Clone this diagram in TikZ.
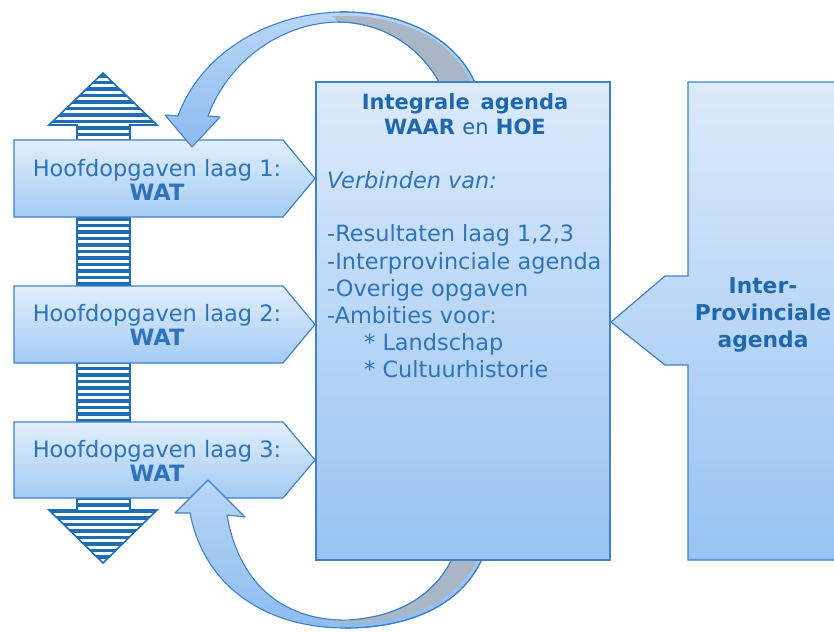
\documentclass[tikz,border=0pt]{standalone}
\usepackage{fontspec}
\setmainfont{DejaVu Sans}
\definecolor{bordc}{HTML}{3F83C6}
\definecolor{txtc}{HTML}{2D74B8}
\definecolor{hdc}{HTML}{1F68AC}
\definecolor{stripec}{HTML}{1F6DB6}
\definecolor{boxtop}{HTML}{DCEAFA}
\definecolor{boxbot}{HTML}{97C3F2}
\definecolor{chevtop}{HTML}{E2EEFB}
\definecolor{chevbot}{HTML}{A3CBF4}
\definecolor{arctop}{HTML}{B9D6F6}
\definecolor{arcbot}{HTML}{8DBCEF}
\definecolor{greyc}{HTML}{A9B6C6}
\begin{document}
\begin{tikzpicture}[x=1pt,y=-1pt,
  chev/.style={draw=bordc, line width=1.2pt, top color=chevtop, bottom color=chevbot},
  bigbox/.style={draw=bordc, line width=1.2pt, top color=boxtop, bottom color=boxbot},
  band/.style={draw=bordc, line width=1.1pt, line join=round, top color=arctop, bottom color=arcbot},
  lbl/.style={text=txtc, font=\fontsize{22.5}{24}\selectfont, align=center, inner sep=0pt},
  hd/.style={text=hdc, font=\fontsize{21}{25}\selectfont\bfseries, align=center, inner sep=0pt},
  lst/.style={text=txtc, font=\fontsize{22.4}{27}\selectfont, anchor=base west, inner sep=0pt}]
\useasboundingbox (0,0) rectangle (834,631);
\fill[white] (0,0) rectangle (834,631);

% striped double arrow
\begin{scope}
\clip (103,73) -- (157,125) -- (130,125) -- (130,510) -- (157,510) -- (103,563) -- (49,510) -- (77,510) -- (77,125) -- (49,125) -- cycle;
\fill[white] (40,60) rectangle (170,570);
\foreach \yy in {76,82.5,...,570} \draw[stripec, line width=3.3pt] (40,\yy) -- (170,\yy);
\end{scope}
\draw[stripec, line width=1.6pt, line join=miter] (103,73) -- (157,125) -- (130,125) -- (130,510) -- (157,510) -- (103,563) -- (49,510) -- (77,510) -- (77,125) -- (49,125) -- cycle;

% chevrons
\path[chev] (14,140) -- (283,140) -- (315,178.5) -- (283,217) -- (14,217) -- cycle;
\path[chev] (14,286) -- (283,286) -- (315,324.5) -- (283,363) -- (14,363) -- cycle;
\path[chev] (14,422) -- (283,422) -- (315,460) -- (283,498) -- (14,498) -- cycle;
\node[lbl] (t1) at (157,180) {Hoofdopgaven laag 1:\\\textbf{WAT}};
\node[lbl] (t2) at (157,325) {Hoofdopgaven laag 2:\\\textbf{WAT}};
\node[lbl] (t3) at (157,461) {Hoofdopgaven laag 3:\\\textbf{WAT}};

% top curved arrow
\path[band] (178,116) .. controls (200,55) and (265,14) .. (340,12) .. controls (405,11) and (460,40) .. (478,90) -- (443,90) .. controls (425,50) and (385,22) .. (338,22) .. controls (280,23) and (228,62) .. (208,116) -- (220,117) -- (192,147) -- (165,115) -- cycle;
\fill[greyc] (332,16) .. controls (405,13) and (458,42) .. (474,90) -- (443,90) .. controls (425,50) and (385,22) .. (338,22) -- cycle;
\draw[bordc, line width=1.1pt] (340,12) .. controls (405,11) and (460,40) .. (478,90);
\draw[bordc, line width=1.1pt] (443,90) .. controls (425,50) and (385,22) .. (338,22);

% bottom curved arrow
\path[band] (190,513) .. controls (205,590) and (270,628) .. (345,628) .. controls (410,628) and (465,605) .. (485,552) -- (455,552) .. controls (440,590) and (405,616) .. (350,620) .. controls (290,622) and (240,590) .. (227,515) -- (245,517) -- (208,480) -- (175,513) -- cycle;
\fill[greyc] (330,623) .. controls (410,626) and (462,600) .. (481,552) -- (455,552) .. controls (440,590) and (405,616) .. (350,620) -- cycle;
\draw[bordc, line width=1.1pt] (345,628) .. controls (410,628) and (465,605) .. (485,552);
\draw[bordc, line width=1.1pt] (455,552) .. controls (440,590) and (405,616) .. (350,620);

% central box
\path[bigbox] (316,82) rectangle (610,560);
\node[hd] (h1) at (465,114) {Integrale\, agenda\\WAAR {\mdseries en} HOE};
\node[lst, font=\fontsize{22.4}{27}\selectfont\itshape] (v) at (327,188) {Verbinden van:};
\node[lst] (l1) at (327,241) {-Resultaten laag 1,2,3};
\node[lst] (l2) at (327,269) {-Interprovinciale agenda};
\node[lst] (l3) at (327,296) {-Overige opgaven};
\node[lst] (l4) at (327,323) {-Ambities voor:};
\node[lst] (l5) at (364,350) {* Landschap};
\node[lst] (l6) at (364,377) {* Cultuurhistorie};

% right box
\path[bigbox] (688,82) -- (845,82) -- (845,560) -- (688,560) -- (688,365) -- (665,365) -- (611,322) -- (665,276) -- (688,276) -- cycle;
\node[hd, font=\fontsize{21.8}{27}\selectfont\bfseries] (ip) at (763,315) {Inter-\\Provinciale\\agenda};
\end{tikzpicture}
\end{document}
